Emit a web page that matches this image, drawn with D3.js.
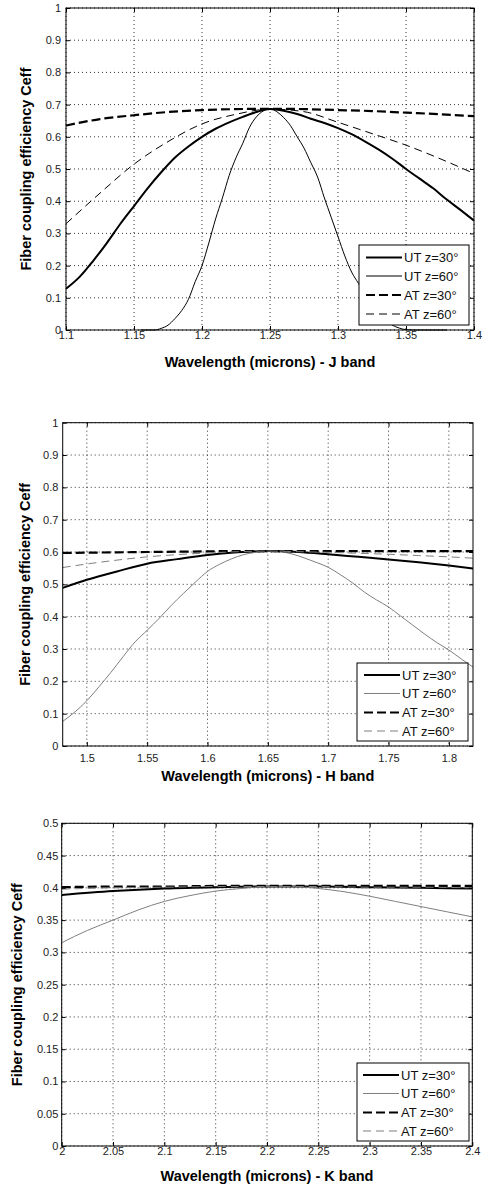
<!DOCTYPE html>
<html>
<head>
<meta charset="utf-8">
<script src="https://d3js.org/d3.v7.min.js"></script>
<style>
  body { margin: 0; background: #fff; }
  text { font-family: "Liberation Sans", Arial, Helvetica, sans-serif; }
</style>
</head>
<body>
<script>
  // ---- J band ----
  const jWave = [1.1, 1.11, 1.12, 1.13, 1.14, 1.15, 1.16, 1.17, 1.18, 1.19, 1.2, 1.21, 1.22, 1.23, 1.24, 1.25,
                 1.26, 1.27, 1.28, 1.29, 1.3, 1.31, 1.32, 1.33, 1.34, 1.35, 1.36, 1.37, 1.38, 1.39, 1.4];
  const jUT30 = [0.128, 0.165, 0.215, 0.27, 0.33, 0.385, 0.44, 0.49, 0.535, 0.57, 0.6, 0.625, 0.645, 0.662, 0.677, 0.686,
                 0.681, 0.671, 0.656, 0.643, 0.627, 0.608, 0.585, 0.56, 0.532, 0.5, 0.47, 0.44, 0.405, 0.373, 0.34];
  const jWave60 = [1.155, 1.165, 1.17, 1.175, 1.18, 1.185, 1.19, 1.195, 1.2, 1.205, 1.21, 1.215, 1.22, 1.225, 1.23,
                   1.235, 1.24, 1.245, 1.25, 1.255, 1.26, 1.265, 1.27, 1.275, 1.28, 1.285, 1.29, 1.295, 1.3, 1.305,
                   1.31, 1.315, 1.32, 1.325, 1.33, 1.335, 1.34, 1.345, 1.35, 1.355, 1.38];
  const jUT60 = [0, 0, 0.005, 0.015, 0.035, 0.06, 0.095, 0.15, 0.2, 0.27, 0.345, 0.41, 0.48, 0.535, 0.58,
                 0.63, 0.662, 0.68, 0.687, 0.678, 0.66, 0.635, 0.6, 0.565, 0.52, 0.475, 0.41, 0.35, 0.29, 0.23,
                 0.18, 0.145, 0.11, 0.08, 0.05, 0.03, 0.015, 0.006, 0.001, 0, 0];
  const jWaveAT = [1.1, 1.125, 1.15, 1.175, 1.2, 1.225, 1.25, 1.275, 1.3, 1.325, 1.35, 1.375, 1.4];
  const jAT30 = [0.635, 0.655, 0.667, 0.677, 0.683, 0.686, 0.687, 0.686, 0.683, 0.68, 0.675, 0.67, 0.664];
  const jAT60 = [0.33, 0.425, 0.515, 0.585, 0.64, 0.67, 0.686, 0.678, 0.645, 0.61, 0.574, 0.532, 0.486];
  const jXTicks = [1.1, 1.15, 1.2, 1.25, 1.3, 1.35, 1.4];

  // ---- H band ----
  const hWave = [1.48, 1.49, 1.5, 1.51, 1.52, 1.53, 1.54, 1.55, 1.56, 1.57, 1.58, 1.59, 1.6, 1.61, 1.62, 1.63, 1.64, 1.65,
                 1.66, 1.67, 1.68, 1.69, 1.7, 1.71, 1.72, 1.73, 1.74, 1.75, 1.76, 1.77, 1.78, 1.79, 1.8, 1.81, 1.82];
  const hUT60 = [0.076, 0.105, 0.14, 0.183, 0.228, 0.276, 0.322, 0.358, 0.395, 0.435, 0.472, 0.507, 0.54, 0.562, 0.579, 0.592, 0.599, 0.603,
                 0.601, 0.594, 0.582, 0.568, 0.553, 0.53, 0.505, 0.476, 0.452, 0.43, 0.402, 0.374, 0.346, 0.32, 0.297, 0.27, 0.244];
  const hWave2 = [1.48, 1.5, 1.525, 1.55, 1.575, 1.6, 1.625, 1.65, 1.675, 1.7, 1.725, 1.75, 1.775, 1.8, 1.82];
  const hUT30 = [0.489, 0.514, 0.54, 0.564, 0.578, 0.591, 0.599, 0.603, 0.6, 0.593, 0.585, 0.577, 0.568, 0.558, 0.549];
  const hAT30 = [0.597, 0.598, 0.599, 0.6, 0.601, 0.602, 0.603, 0.603, 0.603, 0.603, 0.603, 0.603, 0.603, 0.603, 0.603];
  const hAT60 = [0.552, 0.563, 0.575, 0.585, 0.592, 0.597, 0.601, 0.603, 0.601, 0.599, 0.596, 0.593, 0.589, 0.585, 0.581];
  const hXTicks = [1.5, 1.55, 1.6, 1.65, 1.7, 1.75, 1.8];

  // ---- K band ----
  const kWave = [2.0, 2.025, 2.05, 2.075, 2.1, 2.125, 2.15, 2.175, 2.2, 2.225, 2.25, 2.275, 2.3, 2.325, 2.35, 2.375, 2.4];
  const kUT60 = [0.315, 0.334, 0.35, 0.366, 0.379, 0.388, 0.395, 0.399, 0.402, 0.402, 0.399, 0.394, 0.387, 0.379, 0.371, 0.363, 0.355];
  const kWave2 = [2.0, 2.05, 2.1, 2.15, 2.2, 2.25, 2.3, 2.35, 2.4];
  const kUT30 = [0.389, 0.395, 0.399, 0.401, 0.402, 0.402, 0.401, 0.4, 0.399];
  const kAT30 = [0.401, 0.402, 0.402, 0.403, 0.403, 0.403, 0.403, 0.403, 0.403];
  const kAT60 = [0.398, 0.4, 0.401, 0.402, 0.402, 0.402, 0.401, 0.401, 0.4];
  const kXTicks = [2, 2.05, 2.1, 2.15, 2.2, 2.25, 2.3, 2.35, 2.4];

  const yTicks1 = [0, 0.1, 0.2, 0.3, 0.4, 0.5, 0.6, 0.7, 0.8, 0.9, 1];
  const yTicks05 = [0, 0.05, 0.1, 0.15, 0.2, 0.25, 0.3, 0.35, 0.4, 0.45, 0.5];

  const legendNames = ["UT z=30°", "UT z=60°", "AT z=30°", "AT z=60°"];
  const yLabel = "Fiber coupling efficiency Ceff";

  const zip = (xs, ys) => xs.map((x, i) => [x, ys[i]]);

  const svg = d3.select("body").append("svg")
    .attr("width", 485)
    .attr("height", 1188);

  const panels = [
    {
      left: 66, right: 474, top: 8, bottom: 330,
      xDomain: [1.1, 1.4], yDomain: [0, 1], xTicks: jXTicks, yTicks: yTicks1,
      xPad: 1, yPad: 5, yLabelX: 31, xLabelY: 367,
      xLabel: "Wavelength (microns) - J band",
      gray: "#000",
      series: [zip(jWave, jUT30), zip(jWave60, jUT60), zip(jWaveAT, jAT30), zip(jWaveAT, jAT60)],
      legend: { x: 359, y: 245, w: 110, h: 80, lx: 366, rows: [257.5, 276, 295, 314] }
    },
    {
      left: 62.7, right: 473, top: 422.7, bottom: 746,
      xDomain: [1.48, 1.82], yDomain: [0, 1], xTicks: hXTicks, yTicks: yTicks1,
      xPad: 8, yPad: 4.4, yLabelX: 30, xLabelY: 781,
      xLabel: "Wavelength (microns) - H band",
      gray: "#7f7f7f",
      series: [zip(hWave2, hUT30), zip(hWave, hUT60), zip(hWave2, hAT30), zip(hWave2, hAT60)],
      legend: { x: 357, y: 663, w: 111, h: 78, lx: 364, rows: [675, 693.5, 712.5, 731] }
    },
    {
      left: 61.7, right: 472.3, top: 823.3, bottom: 1146,
      xDomain: [2, 2.4], yDomain: [0, 0.5], xTicks: kXTicks, yTicks: yTicks05,
      xPad: 1, yPad: 3.4, yLabelX: 22, xLabelY: 1181,
      xLabel: "Wavelength (microns) - K band",
      gray: "#7f7f7f",
      series: [zip(kWave2, kUT30), zip(kWave, kUT60), zip(kWave2, kAT30), zip(kWave2, kAT60)],
      legend: { x: 357, y: 1063, w: 112, h: 78, lx: 363, rows: [1075, 1093.5, 1112.5, 1131] }
    }
  ];

  panels.forEach(function(p, pi) {
    const x = d3.scaleLinear().domain(p.xDomain).range([p.left, p.right]);
    const y = d3.scaleLinear().domain(p.yDomain).range([p.bottom, p.top]);
    const g = svg.append("g");

    // styles for the four series: UT30, UT60, AT30, AT60
    const styles = [
      { color: "#000", width: 2, dash: null },
      { color: p.gray, width: 1, dash: null },
      { color: "#000", width: 2.2, dash: "9,4" },
      { color: p.gray, width: 1, dash: "8,5" }
    ];

    g.append("clipPath").attr("id", "clip" + pi)
      .append("rect")
      .attr("x", p.left).attr("y", p.top - 1)
      .attr("width", p.right - p.left).attr("height", p.bottom - p.top + 2);

    // dotted grid
    g.append("g").selectAll("line").data(p.xTicks).enter().append("line")
      .attr("x1", d => x(d)).attr("x2", d => x(d))
      .attr("y1", p.top).attr("y2", p.bottom)
      .attr("stroke", "#000").attr("stroke-width", 0.8)
      .attr("stroke-dasharray", "1,3");
    g.append("g").selectAll("line").data(p.yTicks).enter().append("line")
      .attr("x1", p.left).attr("x2", p.right)
      .attr("y1", d => y(d)).attr("y2", d => y(d))
      .attr("stroke", "#000").attr("stroke-width", 0.8)
      .attr("stroke-dasharray", "1,3");

    // curves
    const line = d3.line()
      .x(d => x(d[0]))
      .y(d => y(d[1]))
      .curve(d3.curveMonotoneX);

    g.append("g").attr("clip-path", "url(#clip" + pi + ")")
      .selectAll("path").data(p.series).enter().append("path")
      .attr("d", line)
      .attr("fill", "none")
      .attr("stroke", (d, i) => styles[i].color)
      .attr("stroke-width", (d, i) => styles[i].width)
      .attr("stroke-dasharray", (d, i) => styles[i].dash);

    // axes with inward ticks
    const fmt = d3.format("");
    g.append("g").attr("transform", "translate(0," + p.bottom + ")")
      .call(d3.axisBottom(x).tickValues(p.xTicks).tickFormat(fmt)
        .tickSizeInner(-4).tickSizeOuter(0).tickPadding(p.xPad));
    g.append("g").attr("transform", "translate(0," + p.top + ")")
      .call(d3.axisTop(x).tickValues(p.xTicks).tickFormat("")
        .tickSizeInner(-4).tickSizeOuter(0));
    g.append("g").attr("transform", "translate(" + p.left + ",0)")
      .call(d3.axisLeft(y).tickValues(p.yTicks).tickFormat(fmt)
        .tickSizeInner(-4).tickSizeOuter(0).tickPadding(p.yPad));
    g.append("g").attr("transform", "translate(" + p.right + ",0)")
      .call(d3.axisRight(y).tickValues(p.yTicks).tickFormat("")
        .tickSizeInner(-4).tickSizeOuter(0));

    g.selectAll(".domain").remove();
    g.selectAll(".tick line").attr("stroke", "#000");
    g.selectAll(".tick text")
      .attr("font-size", "11px")
      .attr("fill", "#222");

    g.append("rect")
      .attr("x", p.left).attr("y", p.top)
      .attr("width", p.right - p.left).attr("height", p.bottom - p.top)
      .attr("fill", "none").attr("stroke", "#000").attr("stroke-width", 1);

    // axis titles
    g.append("text")
      .attr("transform", "translate(" + p.yLabelX + "," + ((p.top + p.bottom) / 2) + ") rotate(-90)")
      .attr("text-anchor", "middle")
      .attr("font-size", "14.5px")
      .attr("font-weight", "bold")
      .text(yLabel);
    g.append("text")
      .attr("x", (p.left + p.right) / 2)
      .attr("y", p.xLabelY)
      .attr("text-anchor", "middle")
      .attr("font-size", "14.5px")
      .attr("font-weight", "bold")
      .text(p.xLabel);

    // legend
    const lg = g.append("g");
    lg.append("rect")
      .attr("x", p.legend.x).attr("y", p.legend.y)
      .attr("width", p.legend.w).attr("height", p.legend.h)
      .attr("fill", "#fff").attr("stroke", "#000").attr("stroke-width", 1);
    const rows = lg.selectAll("g.row").data(legendNames).enter().append("g")
      .attr("class", "row")
      .attr("transform", (d, i) => "translate(0," + p.legend.rows[i] + ")");
    rows.append("line")
      .attr("x1", p.legend.lx).attr("x2", p.legend.lx + 36)
      .attr("y1", 0).attr("y2", 0)
      .attr("stroke", (d, i) => styles[i].color)
      .attr("stroke-width", (d, i) => styles[i].width)
      .attr("stroke-dasharray", (d, i) => styles[i].dash);
    rows.append("text")
      .attr("x", p.legend.lx + 38)
      .attr("y", 0)
      .attr("dy", "0.36em")
      .attr("font-size", "13px")
      .attr("fill", "#111")
      .text(d => d);
  });
</script>
</body>
</html>
